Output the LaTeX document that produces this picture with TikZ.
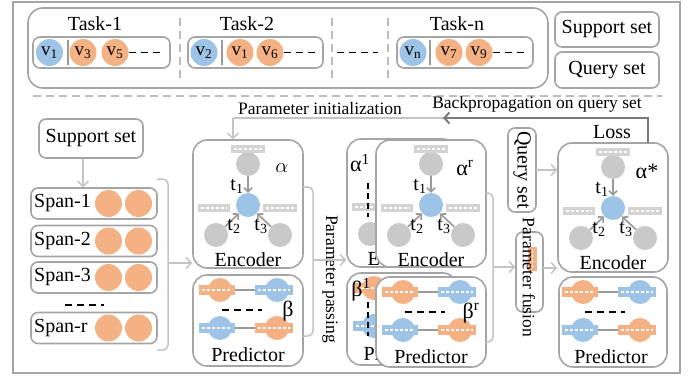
\documentclass[tikz,border=0pt]{standalone}
\usepackage{fontspec}
\setmainfont{Liberation Serif}
\usetikzlibrary{arrows.meta}
\definecolor{boxgray}{HTML}{A5A5A5}
\definecolor{linegray}{HTML}{C4C4C4}
\definecolor{darkline}{HTML}{7A7A7A}
\definecolor{cblue}{HTML}{9DC3E6}
\definecolor{corange}{HTML}{F4B183}
\definecolor{cgray}{HTML}{C9C9C9}
\definecolor{lblgray}{HTML}{D3D3D3}
\definecolor{sepgray}{HTML}{BDBDBD}
\definecolor{inarrow}{HTML}{9A9A9A}
\newcommand\mfs{\fontsize{20}{22}\selectfont}
\newcommand\afs{\fontsize{17.5}{19}\selectfont}
\tikzset{
 pbox/.style={draw=boxgray, line width=1.6pt, rounded corners=7pt, fill=white, inner sep=0pt},
 bigbox/.style={draw=boxgray, line width=1.6pt, rounded corners=14pt, fill=white, inner sep=0pt},
 circ/.style={circle, minimum size=24pt, inner sep=0pt},
 gcirc/.style={circ, fill=cgray},
 bcirc/.style={circ, fill=cblue},
 ocirc/.style={circ, fill=corange},
 scirc/.style={circle, minimum size=27pt, inner sep=0pt, fill=corange},
 vcirc/.style={circle, minimum size=27pt, inner sep=0pt, font=\fontsize{19}{20}\selectfont},
 lbl/.style={rectangle, inner sep=0pt, path picture={\draw[white, line width=1.3pt, dash pattern=on 3pt off 2pt] ([xshift=3pt]path picture bounding box.west) -- ([xshift=-3pt]path picture bounding box.east);}},
 glbl/.style={lbl, fill=lblgray, minimum height=8pt},
 olbl/.style={lbl, fill=corange, minimum height=10pt},
 blbl/.style={lbl, fill=cblue, minimum height=10pt},
 larrow/.style={draw=linegray, line width=1.5pt, -{Straight Barb[length=5pt,width=11pt]}},
 earrow/.style={draw=inarrow, line width=1.6pt, -{Straight Barb[length=4pt,width=8pt]}},
 bline/.style={draw=linegray, line width=1.5pt, rounded corners=5pt},
 bdash/.style={draw=black, line width=1.8pt, dash pattern=on 7pt off 5pt},
 sep/.style={draw=sepgray, line width=1.3pt, dash pattern=on 8pt off 5pt},
 divl/.style={draw=inarrow, line width=2pt},
 gline/.style={draw=inarrow, line width=2pt},
 glyph/.style={inner sep=0pt, font=\fontsize{22}{24}\selectfont},
}
% encoder contents: #1 cx, #2 top, #3 prefix, #4 alpha label
\newcommand\encbody[4]{%
\begin{scope}[shift={(#1,#2)}]
 \node[gcirc] (#3top) at (0,24) {};
 \node[glbl, minimum width=34pt] (#3ltop) at (0,9) {};
 \node[bcirc] (#3mid) at (0,65) {};
 \node[gcirc] (#3bl) at (-32,95) {};
 \node[gcirc] (#3br) at (32,95) {};
 \node[glbl, minimum width=32pt] (#3ll) at (-34,68) {};
 \node[glbl, minimum width=34pt] (#3lr) at (32,68) {};
 \draw[earrow] (#3top) -- (#3mid);
 \draw[earrow] (#3bl) -- (#3mid);
 \draw[earrow] (#3br) -- (#3mid);
 \node[inner sep=0pt] (#3t1) at (-11,46) {t\textsubscript{1}};
 \node[inner sep=0pt] (#3t2) at (-14,86) {t\textsubscript{2}};
 \node[inner sep=0pt] (#3t3) at (13,86) {t\textsubscript{3}};
 \node[glyph] (#3al) at (34,28) {#4};
 \node (#3name) at (0,120) {Encoder};
\end{scope}}
% predictor contents: #1 cx, #2 top, #3 prefix, #4 beta label
\newcommand\predbody[4]{%
\begin{scope}[shift={(#1,#2)}]
 \node[ocirc] (#3a) at (-28,15) {};
 \node[bcirc] (#3b) at (29,15) {};
 \draw[gline] (#3a) -- (#3b);
 \node[olbl, minimum width=36pt] (#3la) at (-31,15) {};
 \node[blbl, minimum width=38pt] (#3lb) at (26,15) {};
 \draw[bdash] (-26,35) -- (14,35);
 \node[bcirc] (#3c) at (-28,53) {};
 \node[ocirc] (#3d) at (29,53) {};
 \draw[gline] (#3c) -- (#3d);
 \node[blbl, minimum width=36pt] (#3lc) at (-31,53) {};
 \node[olbl, minimum width=38pt] (#3ld) at (26,53) {};
 \node[glyph] (#3be) at (40,36) {#4};
 \node (#3name) at (0,80) {Predictor};
\end{scope}}
\begin{document}
\begin{tikzpicture}[x=1pt,y=-1pt,font=\mfs]
\useasboundingbox (0,0) rectangle (696,377);
\node[draw=boxgray, line width=1.5pt, minimum width=667pt, minimum height=371pt, inner sep=0pt] (outer) at (346.5,187.5) {};
% ---------- top: tasks ----------
\node[draw=boxgray, line width=1.6pt, rounded corners=15pt, minimum width=520pt, minimum height=80pt, inner sep=0pt] (tasks) at (288,48) {};
\node (task1) at (95,24) {Task-1};
\node (task2) at (247,24) {Task-2};
\node (taskn) at (457,24) {Task-n};
\node[pbox, minimum width=137pt, minimum height=31pt] (tb1) at (101.5,52.5) {};
\node[pbox, minimum width=135pt, minimum height=31pt] (tb2) at (255.5,52.5) {};
\node[pbox, minimum width=136pt, minimum height=31pt] (tbn) at (465,52.5) {};
% task 1
\node[vcirc, fill=cblue] (a1) at (49.5,52.5) {v\textsubscript{1}};
\draw[divl] (68,40) -- (68,65);
\node[vcirc, fill=corange] (a3) at (83,52.5) {v\textsubscript{3}};
\node[vcirc, fill=corange] (a5) at (115,52.5) {v\textsubscript{5}};
\draw[bdash] (a5.east) -- (164,52.5);
% task 2
\node[vcirc, fill=cblue] (b2) at (204,52.5) {v\textsubscript{2}};
\draw[divl] (222,40) -- (222,65);
\node[vcirc, fill=corange] (b1) at (240,52.5) {v\textsubscript{1}};
\node[vcirc, fill=corange] (b6) at (270,52.5) {v\textsubscript{6}};
\draw[bdash] (b6.east) -- (318,52.5);
% task n
\node[vcirc, fill=cblue] (cn) at (413,52.5) {v\textsubscript{n}};
\draw[divl] (430,40) -- (430,65);
\node[vcirc, fill=corange] (c7) at (449,52.5) {v\textsubscript{7}};
\node[vcirc, fill=corange] (c9) at (479,52.5) {v\textsubscript{9}};
\draw[bdash] (c9.east) -- (526,52.5);
% separators
\draw[sep] (180,18) -- (180,81);
\draw[sep] (332,18) -- (332,81);
\draw[sep] (388,18) -- (388,81);
\draw[bdash] (337,52.5) -- (378,52.5);
\node[pbox, minimum width=104pt, minimum height=35pt] (supp) at (607,29.5) {Support set};
\node[pbox, minimum width=104pt, minimum height=36pt] (query) at (607,70) {Query set};
\draw[sep] (33,96) -- (662,96);
% ---------- left column ----------
\node[pbox, minimum width=104pt, minimum height=39pt] (sup2) at (91,138.5) {Support set};
\foreach \n/\y in {1/203.5, 2/241, 3/277.5, r/328}{
 \node[pbox, minimum width=126pt, minimum height=31pt] (span\n) at (94,\y) {};
 \node[anchor=west, inner sep=0pt] (spt\n) at (34,\y) {Span-\n};
 \node[scirc] (spa\n) at (108.5,\y) {};
 \node[scirc] (spb\n) at (138.5,\y) {};
}
\draw[bdash] (65,305) -- (104,305);
\coordinate (ax) at (83,0);
\draw[larrow] (sup2.south -| ax) -- (span1.north -| ax);
\draw[bline] (157,179) -- (168,179) -- (168,350) -- (157,350);
% ---------- encoder / predictor 1 ----------
\node[bigbox, minimum width=110pt, minimum height=128pt] (enc1) at (248,204) {};
\encbody{248}{140}{e1}{$\alpha$}
\node[bigbox, minimum width=110pt, minimum height=91pt] (pre1) at (248,320.5) {};
\predbody{248}{275}{p1}{β}
\coordinate (k1) at (168,263);
\draw[larrow] (k1) -- (k1 -| enc1.west);
\draw[bline] (303,187) -- (313,187) -- (313,336) -- (303,336);
\node[rotate=-90, font=\afs] (ppass) at (330,279) {Parameter passing};
% ---------- stacked encoders (back one mostly hidden) ----------
\node[bigbox, minimum width=110pt, minimum height=128pt] (encb) at (402,203) {};
\node[gcirc] (ebbl) at (370,234) {};
\node[glbl, minimum width=32pt] (ebll) at (368,207) {};
\node[glyph] (a1lab) at (360,163) {α\textsuperscript{1}};
\draw[bdash, dash pattern=on 6pt off 4pt] (368,183) -- (368,217);
\node[anchor=west, inner sep=0pt] (ebname) at (367.5,259) {E};
\node[bigbox, minimum width=110pt, minimum height=127pt] (encf) at (431,203.5) {};
\encbody{431}{140}{ef}{α\textsuperscript{r}}
\coordinate (k2) at (313,260);
\draw[larrow] (k2) -- (k2 -| encb.west);
% ---------- stacked predictors ----------
\node[bigbox, minimum width=110pt, minimum height=92pt] (preb) at (402,319) {};
\node[ocirc] (pba) at (374,288) {};
\node[olbl, minimum width=36pt] (pbla) at (371,288) {};
\node[bcirc] (pbc) at (374,326) {};
\node[blbl, minimum width=36pt] (pblc) at (371,326) {};
\node[glyph] (b1lab) at (361,290) {β\textsuperscript{1}};
\draw[bdash, dash pattern=on 6pt off 4pt] (368,302) -- (368,336);
\node[anchor=west, inner sep=0pt] (pbname) at (363.5,354) {Pr};
\node[bigbox, minimum width=110pt, minimum height=90pt] (pref) at (431,322) {};
\predbody{431}{277}{pf}{β\textsuperscript{r}}
\draw[bline] (486,193) -- (493,193) -- (493,342) -- (486,342);
% ---------- query set / fusion ----------
\node[pbox, minimum width=28pt, minimum height=84pt] (qs) at (522,170) {};
\node[rotate=-90] (qst) at (qs) {Query set};
\node[pbox, minimum width=27pt, minimum height=80pt] (fus) at (529.5,272) {};
\node[rectangle, fill=corange, minimum width=9pt, minimum height=24pt, inner sep=0pt, path picture={\draw[white, line width=1.3pt, dash pattern=on 3pt off 2pt] ([yshift=-3pt]path picture bounding box.north) -- ([yshift=3pt]path picture bounding box.south);}] (fusl) at (532.5,259) {};
\node[rotate=-90, font=\afs] (pfus) at (529,277.5) {Parameter fusion};
\coordinate (k3) at (493,267);
\draw[larrow] (k3) -- (k3 -| fus.west);
% ---------- final ----------
\node[bigbox, minimum width=110pt, minimum height=129pt] (encz) at (613,207.5) {};
\encbody{613}{143}{ez}{α*}
\node[bigbox, minimum width=108pt, minimum height=90pt] (prez) at (613,322) {};
\predbody{611}{277}{pz}{}
\coordinate (k4) at (543,268);
\draw[larrow] (k4) -- (k4 -| encz.west);
\coordinate (k5) at (536,170);
\draw[larrow] (k5) -- (k5 -| encz.west);
% ---------- loss / backprop ----------
\node (loss) at (612,132) {Loss};
\coordinate (lb) at (648,143);
\coordinate (lt) at (648,118);
\coordinate (mid) at (443,118);
\coordinate (lft) at (233,118);
\draw[line width=2pt, draw=linegray] (446,118) -- (lft);
\draw[larrow] (lft) -- (lft |- enc1.north) ;
\draw[line width=2pt, draw=darkline, -{Straight Barb[length=5pt,width=11pt]}] (lb) -- (lt) -- (mid);
\node[font=\afs] (bp) at (537,104) {Backpropagation on query set};
\node[font=\afs] (pi) at (320,109) {Parameter initialization};
\end{tikzpicture}
\end{document}
